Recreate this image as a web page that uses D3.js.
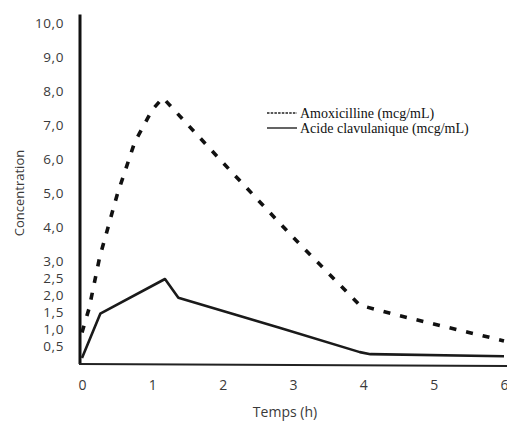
<!DOCTYPE html>
<html>
<head>
<meta charset="utf-8">
<script src="https://cdn.jsdelivr.net/npm/d3@7"></script>
<style>
  body { margin: 0; background: #fff; }
  svg { display: block; }
</style>
</head>
<body>
<div id="viz"></div>
<script>
const W = 507,
    H = 421,
    margin = {top: 23, right: 3, bottom: 58, left: 82};

const amoxTimes = [0, 0.1, 0.25, 0.5, 0.75, 1.0, 1.15, 2.0, 3.0, 3.95, 4.5, 5.0, 5.5, 6.0];
const amoxValues = [0.9, 1.6, 3.1, 4.95, 6.5, 7.45, 7.8, 5.9, 3.7, 1.7, 1.4, 1.15, 0.9, 0.65];

const clavTimes = [0, 0.26, 1.18, 1.37, 2.82, 3.95, 4.1, 6.0];
const clavValues = [0.15, 1.45, 2.47, 1.92, 1.03, 0.32, 0.26, 0.2];

const yTicks = [0.5, 1, 1.5, 2, 2.5, 3, 4, 5, 6, 7, 8, 9, 10];
const xTicks = [0, 1, 2, 3, 4, 5, 6];
const seriesNames = ['Amoxicilline (mcg/mL)', 'Acide clavulanique (mcg/mL)'];

const x = d3.scaleLinear()
    .domain([0, 6])
    .range([margin.left, W - margin.right]);

const y = d3.scaleLinear()
    .domain([0, 10])
    .range([H - margin.bottom, margin.top]);

const svg = d3.select('#viz')
    .append('svg')
    .attr('width', W)
    .attr('height', H);

const fontSans = "'Open Sans', 'DejaVu Sans', sans-serif";
const fontSerif = "'Liberation Serif', 'DejaVu Serif', serif";

// y axis labels
const yAxis = d3.axisLeft(y)
    .tickValues(yTicks)
    .tickSize(0)
    .tickPadding(16)
    .tickFormat(d => d3.format('.1f')(d).replace('.', ','));

svg.append('g')
    .attr('transform', 'translate(' + (x(0) - 2) + ',0)')
    .call(yAxis)
    .call(g => g.select('.domain').remove())
    .selectAll('text')
    .attr('fill', '#3a3a3a')
    .style('font-family', fontSans)
    .style('font-size', '13.5px')
    .style('letter-spacing', '0.6px');

// x axis labels
const xAxis = d3.axisBottom(x)
    .tickValues(xTicks)
    .tickSize(0)
    .tickPadding(17)
    .tickFormat(d3.format('d'));

svg.append('g')
    .attr('transform', 'translate(0,' + y(0) + ')')
    .call(xAxis)
    .call(g => g.select('.domain').remove())
    .selectAll('text')
    .attr('fill', '#3a3a3a')
    .style('font-family', fontSans)
    .style('font-size', '14px');

// axis lines
svg.append('line')
    .attr('x1', x(0) - 2).attr('x2', x(0) - 2)
    .attr('y1', y(0) + 1).attr('y2', y(10.25))
    .attr('stroke', '#111')
    .attr('stroke-width', 3);

svg.append('line')
    .attr('x1', x(0) - 3).attr('x2', W)
    .attr('y1', y(0) + 1).attr('y2', y(0) + 3)
    .attr('stroke', '#222')
    .attr('stroke-width', 2.2);

// axis titles
svg.append('text')
    .attr('x', x(3) - 8)
    .attr('y', 417)
    .attr('text-anchor', 'middle')
    .attr('fill', '#3a3a3a')
    .style('font-family', fontSans)
    .style('font-size', '14px')
    .text('Temps (h)');

svg.append('text')
    .attr('transform', 'translate(24,' + y(5) + ') rotate(-90)')
    .attr('text-anchor', 'middle')
    .attr('fill', '#3a3a3a')
    .style('font-family', fontSans)
    .style('font-size', '13px')
    .text('Concentration');

// curves
const line = d3.line()
    .x(d => x(d[0]))
    .y(d => y(d[1]));

const amox = d3.zip(amoxTimes, amoxValues);
const clav = d3.zip(clavTimes, clavValues);

svg.append('path')
    .datum(clav)
    .attr('d', line)
    .attr('fill', 'none')
    .attr('stroke', '#1a1a1a')
    .attr('stroke-width', 2.6)
    .attr('stroke-linejoin', 'round');

svg.append('path')
    .datum(amox)
    .attr('d', line)
    .attr('fill', 'none')
    .attr('stroke', '#111')
    .attr('stroke-width', 3.6)
    .attr('stroke-dasharray', '7,10');

// legend
const legend = svg.append('g')
    .selectAll('g')
    .data(seriesNames)
    .enter().append('g')
    .attr('transform', (d, i) => 'translate(267,' + (113 + i * 15) + ')');

legend.append('line')
    .attr('x1', 0).attr('x2', 30)
    .attr('stroke', '#222')
    .attr('stroke-width', 1.4)
    .attr('stroke-dasharray', (d, i) => i === 0 ? '2.5,1.2' : null);

legend.append('text')
    .attr('x', 33)
    .attr('dy', '0.35em')
    .attr('fill', '#111')
    .style('font-family', fontSerif)
    .style('font-size', '14px')
    .text(d => d);
</script>
</body>
</html>
